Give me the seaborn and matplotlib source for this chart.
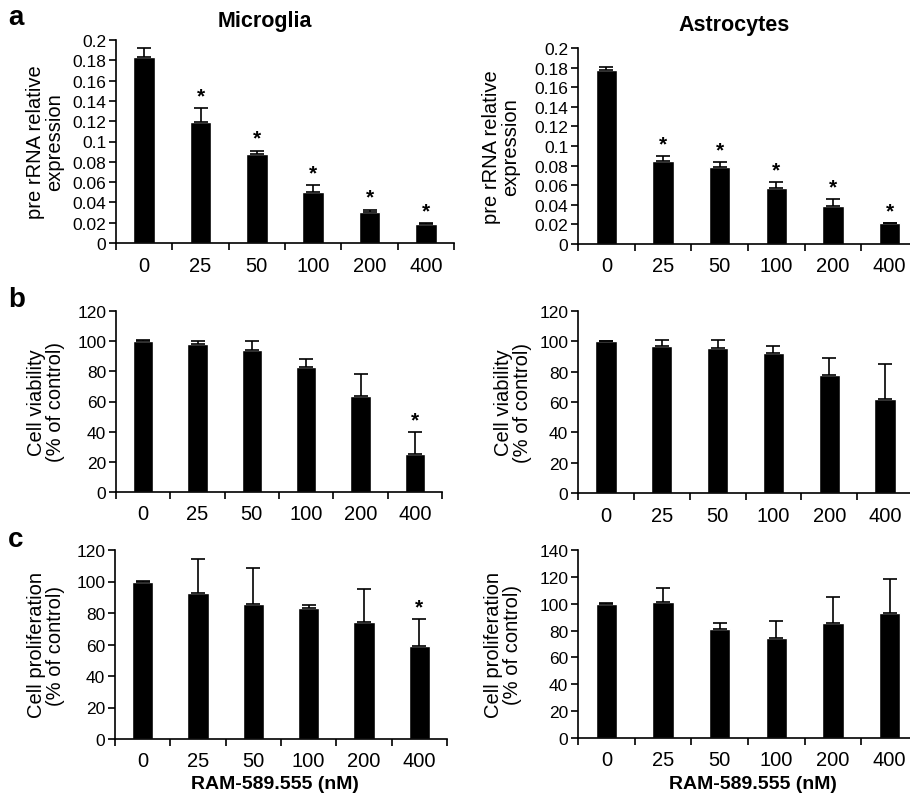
import numpy as np
import pandas as pd
import matplotlib
matplotlib.use("Agg")
import matplotlib.pyplot as plt
import seaborn as sns

# doses (nM)
doses = ["0", "25", "50", "100", "200", "400"]

# a: pre rRNA relative expression
mg_rrna = [0.183, 0.119, 0.088, 0.050, 0.031, 0.019]
mg_rrna_err = [0.009, 0.014, 0.003, 0.007, 0.002, 0.0007]
as_rrna = [0.178, 0.085, 0.079, 0.057, 0.039, 0.021]
as_rrna_err = [0.003, 0.005, 0.005, 0.006, 0.0065, 0.0007]

# b: cell viability (% of control)
mg_viab = [100, 98, 94, 83, 63.5, 25.5]
mg_viab_err = [0.5, 2.3, 6.3, 5.0, 15.0, 14.0]
as_viab = [100, 96.7, 95.8, 92.5, 78, 62]
as_viab_err = [0.5, 4.4, 5.3, 4.5, 11, 23]

# c: cell proliferation (% of control)
mg_prol = [100, 92.5, 86, 83, 74.5, 59]
mg_prol_err = [0.4, 22, 22.8, 2.2, 21, 17.3]
as_prol = [100, 101.3, 81, 74.7, 85.6, 93.2]
as_prol_err = [0.4, 10.2, 5, 12.4, 19.5, 25]

# significance marks
mg_rrna_sig = [False, True, True, True, True, True]
as_rrna_sig = [False, True, True, True, True, True]
mg_viab_sig = [False, False, False, False, False, True]
as_viab_sig = [False] * 6
mg_prol_sig = [False, False, False, False, False, True]
as_prol_sig = [False] * 6

sns.set_style("ticks")
plt.rcParams["font.family"] = ["Liberation Sans", "DejaVu Sans"]
plt.rcParams.update({
    "axes.linewidth": 1.2,
    "axes.edgecolor": "black",
    "text.color": "black",
    "axes.labelcolor": "black",
    "xtick.color": "black",
    "ytick.color": "black",
})

fig = plt.figure(figsize=(9.1, 8.04), dpi=100)


def bar_panel(rect, vals, errs, sig, ylim, yticks, ylabel, yfmt=None):
    ax = fig.add_axes(rect)
    df = pd.DataFrame({"dose": doses, "value": vals})
    sns.barplot(data=df, x="dose", y="value", order=doses, color="black",
                saturation=1, width=0.38, errorbar=None, ax=ax)
    x = np.arange(len(doses))
    ax.errorbar(x, vals, yerr=[np.zeros(len(vals)), errs], fmt="none",
                ecolor="black", elinewidth=1.2, capsize=5, capthick=1.2)
    for xi, v, e, s in zip(x, vals, errs, sig):
        if s:
            ax.annotate("*", (xi, v + e), xytext=(0, 2), textcoords="offset points",
                        ha="center", va="bottom", fontsize=15, fontweight="bold")
    ax.set_xlim(-0.5, len(doses) - 0.5)
    ax.set_ylim(*ylim)
    ax.set_yticks(yticks)
    if yfmt:
        ax.set_yticklabels([yfmt(t) for t in yticks])
    # ticks between categories, labels under bars
    ax.set_xticks(np.arange(-0.5, len(doses), 1))
    ax.set_xticklabels([])
    ax.set_xticks(x, minor=True)
    ax.set_xticklabels(doses, minor=True)
    ax.tick_params(axis="x", which="major", length=5, width=1.2, direction="out")
    ax.tick_params(axis="x", which="minor", length=0, pad=9, labelsize=14.5)
    ax.tick_params(axis="y", length=5, width=1.2, direction="out", labelsize=12.5, pad=2)
    ax.set_xlabel("")
    ax.set_ylabel(ylabel, fontsize=14.5, linespacing=1.0)
    sns.despine(ax=ax)
    return ax


def fmt_small(t):
    return "0" if t == 0 else ("%g" % round(t, 2))


W, H = 910, 804


def rect(x0, x1, ytop, ybot):
    return [x0 / W, 1 - ybot / H, (x1 - x0) / W, (ybot - ytop) / H]


rrna_ticks = np.round(np.arange(0, 0.201, 0.02), 2)

ax1 = bar_panel(rect(116, 454, 41, 244), mg_rrna, mg_rrna_err, mg_rrna_sig,
                (0, 0.2), rrna_ticks, "pre rRNA relative\nexpression", fmt_small)
ax2 = bar_panel(rect(578, 918, 49, 245), as_rrna, as_rrna_err, as_rrna_sig,
                (0, 0.2), rrna_ticks, "pre rRNA relative\nexpression", fmt_small)
ax3 = bar_panel(rect(116, 442, 312, 493), mg_viab, mg_viab_err, mg_viab_sig,
                (0, 120), np.arange(0, 121, 20), "Cell viability\n(% of control)")
ax4 = bar_panel(rect(578, 913, 312, 494), as_viab, as_viab_err, as_viab_sig,
                (0, 120), np.arange(0, 121, 20), "Cell viability\n(% of control)")
ax5 = bar_panel(rect(115, 447, 551, 740), mg_prol, mg_prol_err, mg_prol_sig,
                (0, 120), np.arange(0, 121, 20), "Cell proliferation\n(% of control)")
ax6 = bar_panel(rect(578, 918, 551, 739), as_prol, as_prol_err, as_prol_sig,
                (0, 140), np.arange(0, 141, 20), "Cell proliferation\n(% of control)")

for ax, xc in ((ax1, 45), (ax2, 501), (ax3, 46), (ax4, 513), (ax5, 46), (ax6, 503)):
    pos = ax.get_position()
    ax.yaxis.set_label_coords((xc / W - pos.x0) / pos.width, 0.5)
    ax.yaxis.label.set_verticalalignment("center")

fig.text(265 / W, 1 - 22 / H, "Microglia", ha="center", va="center",
         fontsize=15.5, fontweight="bold")
fig.text(734 / W, 1 - 25 / H, "Astrocytes", ha="center", va="center",
         fontsize=15.5, fontweight="bold")
for label, yy in (("a", 18), ("b", 300), ("c", 540)):
    fig.text(8 / W, 1 - yy / H, label, ha="left", va="center",
             fontsize=20, fontweight="bold")
fig.text(275 / W, 1 - 785 / H, "RAM-589.555 (nM)", ha="center", va="center",
         fontsize=14, fontweight="bold")
fig.text(753 / W, 1 - 785 / H, "RAM-589.555 (nM)", ha="center", va="center",
         fontsize=14, fontweight="bold")

fig.savefig("out.png", dpi=100)
